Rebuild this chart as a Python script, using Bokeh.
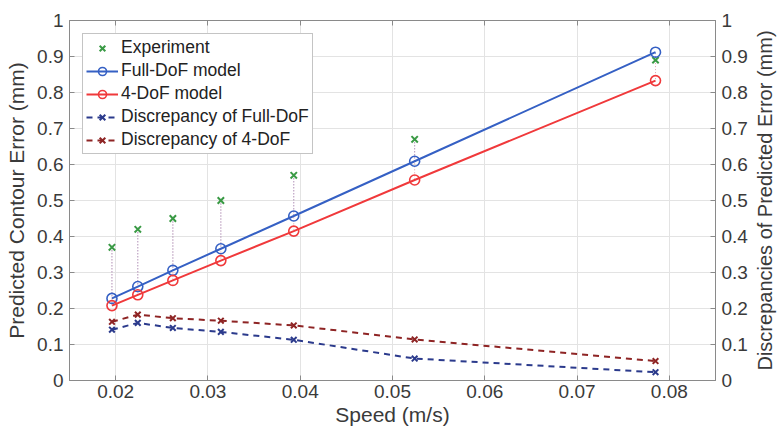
from bokeh.plotting import figure
from bokeh.layouts import row
from bokeh.models import Range1d, LinearAxis, FixedTicker, Legend, LegendItem
from bokeh.embed import file_html
from bokeh.resources import INLINE

# ---- data ----
speed = [0.0196, 0.0224, 0.0262, 0.0314, 0.0393, 0.0524, 0.0785]
experiment = [0.37, 0.42, 0.45, 0.50, 0.57, 0.67, 0.89]
full_dof = [0.228, 0.261, 0.306, 0.366, 0.457, 0.609, 0.912]
four_dof = [0.208, 0.238, 0.278, 0.333, 0.415, 0.557, 0.833]
disc_full = [0.141, 0.160, 0.146, 0.135, 0.113, 0.061, 0.023]
disc_four = [0.163, 0.183, 0.173, 0.166, 0.153, 0.114, 0.054]

x_ticks = [0.02, 0.03, 0.04, 0.05, 0.06, 0.07, 0.08]
x_tick_labels = ["0.02", "0.03", "0.04", "0.05", "0.06", "0.07", "0.08"]
y_ticks = [0, 0.1, 0.2, 0.3, 0.4, 0.5, 0.6, 0.7, 0.8, 0.9, 1]
y_tick_labels = ["0", "0.1", "0.2", "0.3", "0.4", "0.5", "0.6", "0.7", "0.8", "0.9", "1"]

FONT = "Liberation Sans"
TXT = "#3a3a3a"

TOTAL_W, H = 775, 432
BT, BB, BL, BR = 20, 52, 69, 37
FW = 646
p = figure(width=BL + FW + BR, height=H, output_backend="svg", toolbar_location=None,
           x_range=Range1d(0.015, 0.085), y_range=Range1d(0, 1),
           min_border_left=BL, min_border_right=BR, min_border_top=BT, min_border_bottom=BB)
p.extra_y_ranges = {"disc": Range1d(0, 1)}
p.background_fill_color = "white"
p.outline_line_color = "#8a8a8a"
p.outline_line_width = 1

bottom = p.below[0]
left = p.left[0]
right = LinearAxis(y_range_name="disc")
top = LinearAxis()
p.add_layout(right, "right")
p.add_layout(top, "above")

bottom.ticker = FixedTicker(ticks=x_ticks)
top.ticker = FixedTicker(ticks=x_ticks)
left.ticker = FixedTicker(ticks=y_ticks)
right.ticker = FixedTicker(ticks=y_ticks)
bottom.major_label_overrides = dict(zip(x_ticks, x_tick_labels))
top.major_label_overrides = {t: "" for t in x_ticks}
left.major_label_overrides = dict(zip(y_ticks, y_tick_labels))
right.major_label_overrides = dict(zip(y_ticks, y_tick_labels))

for ax in [bottom, left, right, top]:
    ax.major_tick_in = 5
    ax.major_tick_out = 0
    ax.minor_tick_in = 0
    ax.minor_tick_out = 0
    ax.axis_line_color = "#8a8a8a"
    ax.major_tick_line_color = "#8a8a8a"
    ax.major_label_text_font = FONT
    ax.major_label_text_font_size = "19px"
    ax.major_label_text_color = TXT
    ax.major_label_standoff = 6
    ax.axis_label_text_font = FONT
    ax.axis_label_text_font_size = "21px"
    ax.axis_label_text_font_style = "normal"
    ax.axis_label_text_color = TXT
    ax.axis_label_standoff = 6
top.major_label_standoff = 0
top.major_label_text_font_size = "1px"
bottom.major_label_standoff = 4
bottom.axis_label_standoff = 2

bottom.axis_label = "Speed (m/s)"
left.axis_label = "Predicted Contour Error (mm)"

p.xgrid.ticker = FixedTicker(ticks=x_ticks)
p.ygrid.ticker = FixedTicker(ticks=y_ticks)
p.xgrid.grid_line_color = "#e3e3e3"
p.ygrid.grid_line_color = "#e3e3e3"

GREEN = "#3a9a45"
BLUE = "#3560c4"
RED = "#f0393b"
DBLUE = "#2b3a8c"
DRED = "#8e2424"

# dotted connectors between experiment and models
p.segment(x0=speed, y0=experiment, x1=speed, y1=four_dof, line_color="#d88a9a",
          line_dash="1 2", line_width=1, line_alpha=0.8)
p.segment(x0=speed, y0=experiment, x1=speed, y1=full_dof, line_color="#8a86c0",
          line_dash="1 2", line_width=1, line_alpha=0.8)

exp_r = p.scatter(speed, experiment, marker="x", size=9, line_color=GREEN, line_width=2)

fl = p.line(speed, full_dof, line_color=BLUE, line_width=2)
fc = p.scatter(speed, full_dof, marker="circle", size=10, fill_color=None, line_color=BLUE, line_width=1.6)
rl = p.line(speed, four_dof, line_color=RED, line_width=2)
rc = p.scatter(speed, four_dof, marker="circle", size=10, fill_color=None, line_color=RED, line_width=1.6)

dfl = p.line(speed, disc_full, line_color=DBLUE, line_width=2, line_dash="6 5", y_range_name="disc")
dfx = p.scatter(speed, disc_full, marker="x", size=8, line_color=DBLUE, line_width=2, y_range_name="disc")
drl = p.line(speed, disc_four, line_color=DRED, line_width=2, line_dash="6 5", y_range_name="disc")
drx = p.scatter(speed, disc_four, marker="x", size=8, line_color=DRED, line_width=2, y_range_name="disc")

legend = Legend(items=[
    LegendItem(label="Experiment", renderers=[exp_r]),
    LegendItem(label="Full-DoF model", renderers=[fl, fc]),
    LegendItem(label="4-DoF model", renderers=[rl, rc]),
    LegendItem(label="Discrepancy of Full-DoF", renderers=[dfl, dfx]),
    LegendItem(label="Discrepancy of 4-DoF", renderers=[drl, drx]),
], location="top_left")
legend.margin = 13
legend.padding = 3
legend.spacing = 2
legend.glyph_width = 32
legend.glyph_height = 20
legend.label_height = 20
legend.label_standoff = 3
legend.label_text_font = FONT
legend.label_text_font_size = "17.5px"
legend.label_text_color = "#222222"
legend.border_line_color = "#8a8a8a"
legend.border_line_width = 1
legend.background_fill_color = "white"
legend.background_fill_alpha = 1
p.add_layout(legend, "center")

# narrow side strip whose (invisible) left axis carries the right-hand title,
# so it reads bottom-to-top like the reference
SW = TOTAL_W - (BL + FW + BR)
p2 = figure(width=SW, height=H, output_backend="svg", toolbar_location=None,
            x_range=Range1d(0, 1), y_range=Range1d(0, 1),
            x_axis_location=None, y_axis_location="left",
            min_border_left=0, min_border_right=0, min_border_top=BT, min_border_bottom=BB)
p2.outline_line_color = None
p2.grid.visible = False
ax2 = p2.left[0]
ax2.ticker = FixedTicker(ticks=[])
ax2.axis_line_color = None
ax2.major_tick_in = 0
ax2.major_tick_out = 0
ax2.minor_tick_in = 0
ax2.minor_tick_out = 0
ax2.major_label_standoff = 0
ax2.major_label_text_font_size = "1px"
ax2.axis_label = "Discrepancies of Predicted Error (mm)"
ax2.axis_label_standoff = 0
ax2.axis_label_text_font = FONT
ax2.axis_label_text_font_size = "20px"
ax2.axis_label_text_font_style = "normal"
ax2.axis_label_text_color = TXT

layout = row(p, p2, spacing=0)
open("out.html", "w").write(file_html(layout, INLINE))
